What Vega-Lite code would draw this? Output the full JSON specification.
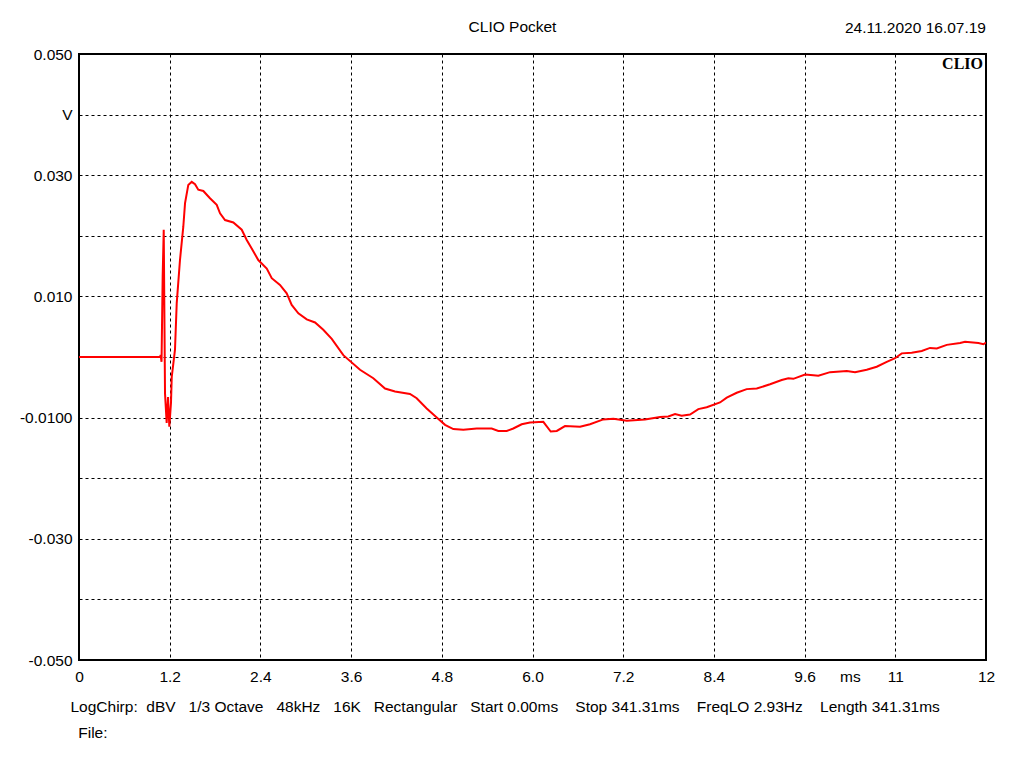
{
  "$schema": "https://vega.github.io/schema/vega-lite/v6.json",
  "description": "CLIO Pocket impulse response, volts vs ms",
  "autosize": {"type": "none"},
  "width": 907,
  "height": 606,
  "padding": {"left": 79, "top": 54, "right": 38, "bottom": 108},
  "background": "white",
  "title": {
    "text": "CLIO Pocket",
    "anchor": "middle",
    "dx": -20,
    "offset": -26,
    "baseline": "alphabetic",
    "fontSize": 15.5,
    "fontWeight": "normal",
    "font": "Liberation Sans",
    "color": "black"
  },
  "config": {
    "view": {"stroke": "black", "strokeWidth": 2},
    "font": "Liberation Sans"
  },
  "layer": [
    {
      "data": {"values": [
        {"t": 0, "v": 0}, {"t": 1.072, "v": 0}, {"t": 1.08, "v": 0.0003}, {"t": 1.092, "v": -0.0008},
        {"t": 1.107, "v": 0.0133}, {"t": 1.121, "v": 0.021}, {"t": 1.138, "v": -0.006},
        {"t": 1.16, "v": -0.0109}, {"t": 1.178, "v": -0.0066}, {"t": 1.195, "v": -0.0115},
        {"t": 1.217, "v": -0.0076}, {"t": 1.227, "v": -0.0033}, {"t": 1.27, "v": 0.0012},
        {"t": 1.293, "v": 0.0089}, {"t": 1.336, "v": 0.016}, {"t": 1.38, "v": 0.0215},
        {"t": 1.403, "v": 0.0254}, {"t": 1.446, "v": 0.0284}, {"t": 1.491, "v": 0.0289},
        {"t": 1.535, "v": 0.0285}, {"t": 1.578, "v": 0.0276}, {"t": 1.645, "v": 0.0274},
        {"t": 1.733, "v": 0.0262}, {"t": 1.822, "v": 0.0251}, {"t": 1.866, "v": 0.0237},
        {"t": 1.932, "v": 0.0226}, {"t": 2.042, "v": 0.0222}, {"t": 2.153, "v": 0.021},
        {"t": 2.219, "v": 0.0193}, {"t": 2.285, "v": 0.0179}, {"t": 2.372, "v": 0.016},
        {"t": 2.484, "v": 0.0146}, {"t": 2.55, "v": 0.013}, {"t": 2.659, "v": 0.0119},
        {"t": 2.748, "v": 0.0105}, {"t": 2.814, "v": 0.0086}, {"t": 2.902, "v": 0.0072},
        {"t": 3.013, "v": 0.0062}, {"t": 3.123, "v": 0.0057}, {"t": 3.232, "v": 0.0045},
        {"t": 3.344, "v": 0.003}, {"t": 3.497, "v": 0.0003}, {"t": 3.718, "v": -0.0021},
        {"t": 3.894, "v": -0.0035}, {"t": 4.049, "v": -0.0052}, {"t": 4.181, "v": -0.0057},
        {"t": 4.379, "v": -0.0061}, {"t": 4.468, "v": -0.0068}, {"t": 4.6, "v": -0.0085},
        {"t": 4.733, "v": -0.01}, {"t": 4.843, "v": -0.0112}, {"t": 4.952, "v": -0.0119},
        {"t": 5.085, "v": -0.012}, {"t": 5.262, "v": -0.0118}, {"t": 5.46, "v": -0.0118},
        {"t": 5.548, "v": -0.0122}, {"t": 5.659, "v": -0.0122}, {"t": 5.746, "v": -0.0118},
        {"t": 5.857, "v": -0.0111}, {"t": 5.967, "v": -0.0108}, {"t": 6.143, "v": -0.0107},
        {"t": 6.241, "v": -0.0123}, {"t": 6.321, "v": -0.0122}, {"t": 6.43, "v": -0.0114},
        {"t": 6.629, "v": -0.0115}, {"t": 6.761, "v": -0.0111}, {"t": 6.937, "v": -0.0103},
        {"t": 7.07, "v": -0.0102}, {"t": 7.247, "v": -0.0105}, {"t": 7.489, "v": -0.0103},
        {"t": 7.688, "v": -0.0099}, {"t": 7.797, "v": -0.0098}, {"t": 7.886, "v": -0.0094},
        {"t": 7.974, "v": -0.0097}, {"t": 8.084, "v": -0.0095}, {"t": 8.194, "v": -0.0086},
        {"t": 8.305, "v": -0.0083}, {"t": 8.481, "v": -0.0075}, {"t": 8.57, "v": -0.0067},
        {"t": 8.702, "v": -0.0059}, {"t": 8.834, "v": -0.0053}, {"t": 8.967, "v": -0.0052},
        {"t": 9.143, "v": -0.0045}, {"t": 9.297, "v": -0.0038}, {"t": 9.385, "v": -0.0035},
        {"t": 9.451, "v": -0.0036}, {"t": 9.606, "v": -0.0029}, {"t": 9.716, "v": -0.003},
        {"t": 9.782, "v": -0.0031}, {"t": 9.937, "v": -0.0025}, {"t": 10.158, "v": -0.0023},
        {"t": 10.267, "v": -0.0025}, {"t": 10.422, "v": -0.0021}, {"t": 10.554, "v": -0.0016},
        {"t": 10.687, "v": -0.0008}, {"t": 10.797, "v": -0.0002}, {"t": 10.885, "v": 0.0006},
        {"t": 11.017, "v": 0.0007}, {"t": 11.15, "v": 0.001}, {"t": 11.259, "v": 0.0015},
        {"t": 11.349, "v": 0.0014}, {"t": 11.481, "v": 0.002}, {"t": 11.657, "v": 0.0023},
        {"t": 11.723, "v": 0.0025}, {"t": 11.899, "v": 0.0023}, {"t": 11.966, "v": 0.0021},
        {"t": 12, "v": 0.0024}
      ]},
      "mark": {"type": "line", "color": "#ff0000", "strokeWidth": 2, "interpolate": "linear", "clip": true},
      "encoding": {
        "x": {
          "field": "t", "type": "quantitative",
          "scale": {"domain": [0, 12], "nice": false, "zero": false},
          "axis": {
            "values": [0, 1.2, 2.4, 3.6, 4.8, 6.0, 7.2, 8.4, 9.6, 10.2, 10.8, 12],
            "labelExpr": "datum.value == 10.2 ? 'ms' : datum.value == 10.8 ? '11' : (datum.value == 0 || datum.value == 12) ? format(datum.value, 'd') : format(datum.value, '.1f')",
            "grid": true,
            "gridColor": "black",
            "gridDash": [3, 3],
            "gridWidth": 1,
            "gridOpacity": {"condition": {"test": "datum.value == 10.2 || datum.value == 0 || datum.value == 12", "value": 0}, "value": 1},
            "ticks": false,
            "domain": false,
            "labelPadding": 9,
            "labelFontSize": 15.5,
            "labelColor": "black",
            "labelFont": "Liberation Sans",
            "labelFlush": false,
            "labelOverlap": false,
            "title": ["LogChirp:\u00a0\u00a0dBV\u00a0\u00a0\u00a01/3 Octave\u00a0\u00a0\u00a048kHz\u00a0\u00a0\u00a016K\u00a0\u00a0\u00a0Rectangular\u00a0\u00a0\u00a0Start 0.00ms\u00a0\u00a0\u00a0\u00a0Stop 341.31ms\u00a0\u00a0\u00a0\u00a0FreqLO 2.93Hz\u00a0\u00a0\u00a0\u00a0Length 341.31ms", "\u200b\u2002File:"],
            "titleAnchor": "start",
            "titleAlign": "left",
            "titleX": -9,
            "titleY": 51,
            "titleBaseline": "alphabetic",
            "titleLineHeight": 26,
            "titleFontSize": 15.5,
            "titleFontWeight": "normal",
            "titleFont": "Liberation Sans",
            "titleColor": "black"
          }
        },
        "y": {
          "field": "v", "type": "quantitative",
          "scale": {"domain": [-0.05, 0.05], "nice": false, "zero": false},
          "axis": {
            "values": [-0.05, -0.04, -0.03, -0.02, -0.01, 0, 0.01, 0.02, 0.03, 0.04, 0.05],
            "labelExpr": "round(datum.value * 100) == 5 ? '0.050' : round(datum.value * 100) == 4 ? 'V' : round(datum.value * 100) == 3 ? '0.030' : round(datum.value * 100) == 1 ? '0.010' : round(datum.value * 100) == -1 ? '-0.0100' : round(datum.value * 100) == -3 ? '-0.030' : round(datum.value * 100) == -5 ? '-0.050' : ''",
            "grid": true,
            "gridColor": "black",
            "gridDash": [3, 3],
            "gridWidth": 1,
            "gridOpacity": {"condition": {"test": "abs(datum.value) > 0.045", "value": 0}, "value": 1},
            "ticks": false,
            "domain": false,
            "labelPadding": 7,
            "labelFontSize": 15.5,
            "labelColor": "black",
            "labelFont": "Liberation Sans",
            "labelFlush": false,
            "labelOverlap": false,
            "title": null
          }
        }
      }
    },
    {
      "data": {"values": [{"t": 12, "v": 0.05, "logo": "CLIO", "stamp": "24.11.2020 16.07.19"}]},
      "layer": [
        {
          "mark": {"type": "text", "align": "right", "baseline": "top", "dx": -3, "dy": 2, "font": "Liberation Serif", "fontWeight": "bold", "fontSize": 16, "color": "black"},
          "encoding": {
            "x": {"field": "t", "type": "quantitative"},
            "y": {"field": "v", "type": "quantitative"},
            "text": {"field": "logo"}
          }
        },
        {
          "mark": {"type": "text", "align": "right", "baseline": "alphabetic", "dx": 0, "dy": -21, "font": "Liberation Sans", "fontSize": 15.5, "color": "black", "clip": false},
          "encoding": {
            "x": {"field": "t", "type": "quantitative"},
            "y": {"field": "v", "type": "quantitative"},
            "text": {"field": "stamp"}
          }
        }
      ]
    }
  ]
}
